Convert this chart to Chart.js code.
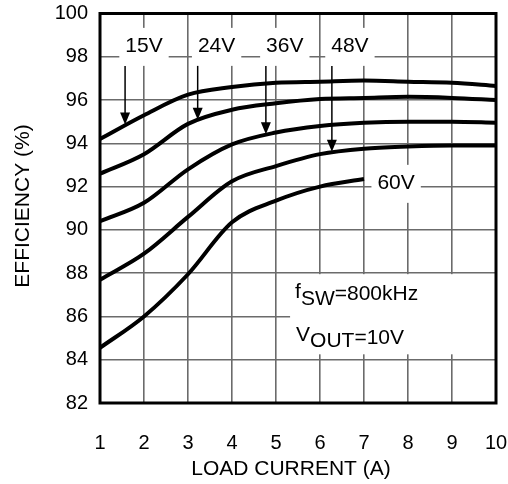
<!DOCTYPE html>
<html>
<head>
<meta charset="utf-8">
<script src="https://cdn.jsdelivr.net/npm/chart.js@4.4.1/dist/chart.umd.min.js"></script>
<style>
html, body { margin: 0; padding: 0; background: #fff; }
#cadre { width: 508px; height: 484px; position: relative; }
</style>
</head>
<body>
<div id="cadre"><canvas id="rendement"></canvas></div>
<script>
// Courant de charge (A) et rendement (%)
const loadCurrent = [1, 2, 3, 4, 5, 6, 7, 8, 9, 10];
const eff15V = [94.2, 95.3, 96.25, 96.6, 96.8, 96.85, 96.9, 96.85, 96.8, 96.65];
const eff24V = [92.6, 93.5, 94.9, 95.55, 95.85, 96.05, 96.1, 96.15, 96.1, 96.0];
const eff36V = [90.4, 91.25, 92.8, 93.95, 94.5, 94.8, 94.95, 95.0, 95.0, 94.95];
const eff48V = [87.7, 88.9, 90.6, 92.25, 92.95, 93.5, 93.75, 93.85, 93.9, 93.9];
const eff60V = [84.55, 86.0, 87.95, 90.35, 91.35, 92.0, 92.35];

const xTicks = [1, 2, 3, 4, 5, 6, 7, 8, 9, 10];
const yTicks = [82, 84, 86, 88, 90, 92, 94, 96, 98, 100];

const seriesNames = ["15V", "24V", "36V", "48V", "60V"];
const seriesValues = [eff15V, eff24V, eff36V, eff48V, eff60V];

// Etiquettes (position en unités de données) et flèches
const labelX = [2.0, 3.65, 5.2, 6.68, 7.73];
const labelY = [98.55, 98.55, 98.55, 98.55, 92.22];
const arrowX = [1.57, 3.22, 4.77, 6.27, null];

const POLICE = "'Liberation Sans', Arial, Helvetica, sans-serif";
Chart.defaults.font.family = POLICE;
Chart.defaults.color = "#000";

function toPoints(vals) {
    return vals.map(function (v, i) { return { x: loadCurrent[i], y: v }; });
}

// interpolation linéaire sur une série, pour placer la pointe des flèches
function valeurEn(vals, x) {
    let i = Math.min(Math.floor(x) - 1, vals.length - 2);
    let t = x - loadCurrent[i];
    return vals[i] + (vals[i + 1] - vals[i]) * t;
}

const annotations = {
    id: "annotations",
    beforeDatasetsDraw(chart) {
        const ctx = chart.ctx;
        const xs = chart.scales.x, ys = chart.scales.y;
        const area = chart.chartArea;
        ctx.save();
        ctx.font = "21px " + POLICE;
        ctx.textAlign = "center";
        ctx.textBaseline = "middle";
        // fonds blancs + textes des courbes
        for (let i = 0; i < seriesNames.length; i++) {
            const cx = xs.getPixelForValue(labelX[i]);
            const cy = ys.getPixelForValue(labelY[i]);
            const w = ctx.measureText(seriesNames[i]).width;
            ctx.fillStyle = "#fff";
            ctx.fillRect(cx - w / 2 - 6, cy - 17, w + 12, 38);
            ctx.fillStyle = "#000";
            ctx.fillText(seriesNames[i], cx, cy + 1);
        }
        // flèches
        ctx.strokeStyle = "#000";
        ctx.fillStyle = "#000";
        ctx.lineWidth = 1.5;
        for (let i = 0; i < arrowX.length; i++) {
            if (arrowX[i] === null) continue;
            const px = xs.getPixelForValue(arrowX[i]);
            const tip = ys.getPixelForValue(valeurEn(seriesValues[i], arrowX[i])) - 1;
            const debut = ys.getPixelForValue(labelY[i]) + 21;
            ctx.beginPath();
            ctx.moveTo(px, debut);
            ctx.lineTo(px, tip - 10);
            ctx.stroke();
            ctx.beginPath();
            ctx.moveTo(px - 5, tip - 12);
            ctx.lineTo(px + 5, tip - 12);
            ctx.lineTo(px, tip);
            ctx.closePath();
            ctx.fill();
        }
        // encadré fSW / VOUT
        const bx = xs.getPixelForValue(5.32);
        const by = ys.getPixelForValue(88) + 1;
        const bb = ys.getPixelForValue(84.25);
        ctx.fillStyle = "#fff";
        ctx.fillRect(bx, by, area.right - bx, bb - by);
        ctx.fillStyle = "#000";
        ctx.textAlign = "left";
        ctx.textBaseline = "alphabetic";
        let x0 = bx + 5, b1 = by + 26;
        ctx.fillText("f", x0, b1 - 2);
        x0 += ctx.measureText("f").width;
        ctx.fillText("SW", x0, b1 + 5);
        x0 += ctx.measureText("SW").width;
        ctx.fillText("=800kHz", x0, b1);
        x0 = bx + 6;
        let b2 = by + 70;
        ctx.fillText("V", x0, b2 - 3);
        x0 += ctx.measureText("V").width;
        ctx.fillText("OUT", x0, b2 + 3);
        x0 += ctx.measureText("OUT").width;
        ctx.fillText("=10V", x0, b2);
        ctx.restore();
    },
    afterDatasetsDraw(chart) {
        const ctx = chart.ctx;
        const a = chart.chartArea;
        ctx.save();
        ctx.strokeStyle = "#000";
        ctx.lineWidth = 3;
        ctx.strokeRect(a.left, a.top, a.right - a.left, a.bottom - a.top);
        ctx.restore();
    },
    afterDraw(chart) {
        const ctx = chart.ctx;
        ctx.save();
        ctx.fillStyle = "#000";
        ctx.font = "21px " + POLICE;
        ctx.textAlign = "center";
        ctx.textBaseline = "middle";
        ctx.fillText("LOAD CURRENT (A)", 291, 469);
        ctx.translate(23, 206);
        ctx.rotate(-Math.PI / 2);
        ctx.fillText("EFFICIENCY (%)", 0, 0);
        ctx.restore();
    }
};

const datasets = seriesValues.map(function (vals, i) {
    return {
        label: seriesNames[i],
        data: toPoints(vals),
        borderColor: "#000",
        borderWidth: 4,
        pointRadius: 0,
        cubicInterpolationMode: "monotone",
        fill: false
    };
});

const grille = { color: "#6b6b6b", lineWidth: 1.6, drawTicks: false };

new Chart(document.getElementById("rendement"), {
    type: "line",
    data: { datasets: datasets },
    options: {
        responsive: true,
        maintainAspectRatio: false,
        animation: false,
        layout: { padding: { top: 13.5, right: 12, left: 0, bottom: 0 } },
        plugins: { legend: { display: false }, tooltip: { enabled: false } },
        scales: {
            x: {
                type: "linear",
                min: xTicks[0],
                max: xTicks[xTicks.length - 1],
                afterBuildTicks: function (s) { s.ticks = xTicks.map(function (v) { return { value: v }; }); },
                afterFit: function (s) { s.height = 81; s.paddingLeft = 0; s.paddingRight = 0; },
                ticks: { padding: 28, font: { size: 20 }, color: "#000", maxRotation: 0 },
                grid: grille,
                border: { display: false }
            },
            y: {
                min: yTicks[0],
                max: yTicks[yTicks.length - 1],
                afterBuildTicks: function (s) { s.ticks = yTicks.map(function (v) { return { value: v }; }); },
                afterFit: function (s) { s.width = 100; s.paddingTop = 0; s.paddingBottom = 0; },
                ticks: { padding: 12, font: { size: 20 }, color: "#000" },
                grid: grille,
                border: { display: false }
            }
        }
    },
    plugins: [annotations]
});
</script>
</body>
</html>
